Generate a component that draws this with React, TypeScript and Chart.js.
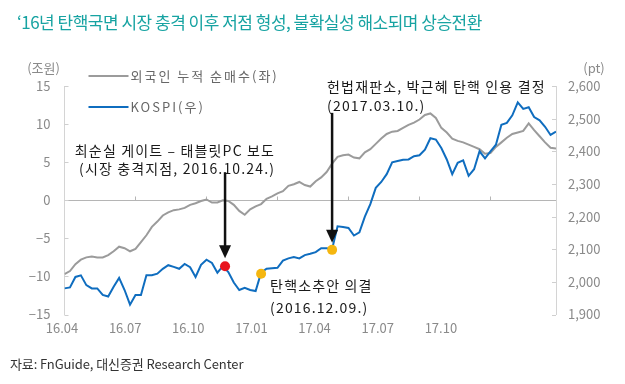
import React, { useEffect, useRef } from "react";
import { Chart, registerables } from "chart.js";

Chart.register(...registerables);

const TITLE = "‘16년 탄핵국면 시장 충격 이후 저점 형성, 불확실성 해소되며 상승전환";
const SOURCE = "자료: FnGuide, 대신증권 Research Center";

const LEFT_UNIT = "(조원)";
const RIGHT_UNIT = "(pt)";
const SERIES_NAMES = ["외국인 누적 순매수(좌)", "KOSPI(우)"];

// x: calendar weeks since 2016-04-01
const xTickLabels = ["16.04", "16.07", "16.10", "17.01", "17.04", "17.07", "17.10"];
const quarterWeeks = [13, 26, 39, 52, 65, 78];

// 외국인 누적 순매수 (조원), weekly
const foreignNet = [
  -9.7, -9.3, -8.4, -7.8, -7.5, -7.4, -7.5, -7.5, -7.2, -6.7,
  -6.1, -6.3, -6.7, -6.4, -5.5, -4.6, -3.5, -2.8, -2.0, -1.6,
  -1.3, -1.2, -1.0, -0.6, -0.4, -0.1, 0.1, -0.3, -0.3, 0.0,
  -0.1, -0.6, -1.4, -1.9, -1.2, -0.8, -0.5, 0.2, 0.5, 0.9,
  1.2, 1.9, 2.1, 2.4, 2.0, 1.8, 2.5, 3.0, 3.7, 4.8,
  5.7, 5.9, 6.0, 5.6, 5.5, 6.3, 6.7, 7.4, 8.1, 8.7,
  9.0, 9.1, 9.5, 9.9, 10.2, 10.6, 11.2, 11.4, 10.8, 9.5,
  8.9, 8.1, 7.8, 7.6, 7.3, 7.0, 6.7, 6.1, 6.2, 7.0,
  7.6, 8.2, 8.7, 8.9, 9.1, 10.1, 9.2, 8.4, 7.6, 6.9,
  6.8,
];

// KOSPI (pt), weekly
const kospi = [
  1980, 1983, 2015, 2020, 1990, 1980, 1980, 1960, 1955, 1985,
  2012, 1975, 1930, 1960, 1960, 2020, 2020, 2025, 2040, 2051,
  2046, 2040, 2055, 2045, 2015, 2052, 2068, 2058, 2028, 2048,
  2030, 1998, 1975, 1982, 1975, 1972, 2028, 2040, 2042, 2043,
  2065, 2072, 2076, 2072, 2082, 2086, 2091, 2103, 2103, 2100,
  2170, 2168, 2165, 2142, 2152, 2200, 2238, 2288, 2306, 2330,
  2366, 2370, 2374, 2375, 2385, 2388, 2405, 2440, 2436, 2410,
  2375, 2330, 2365, 2372, 2325, 2345, 2400, 2378, 2400, 2420,
  2481, 2487, 2510, 2550, 2530, 2535, 2505, 2495, 2475, 2450,
  2460,
];

// events (week index, KOSPI level)
const eventWeeks = [29.4, 36.0, 49.0];
const eventKospi = [2048, 2025, 2098];
const eventColors = ["#e8141e", "#f5b60f", "#f5b60f"];

const eventNotes = [
  { lines: ["최순실 게이트 – 태블릿PC 보도", "(시장 충격지점, 2016.10.24.)"], align: "right", dx: 50, dy: [-116, -98], arrowTop: -94, arrowTip: -8 },
  { lines: ["탄핵소추안 의결", "(2016.12.09.)"], align: "left", dx: 9, dy: [12, 34], arrowTop: null, arrowTip: 0 },
  { lines: ["헌법재판소, 박근혜 탄핵 인용 결정", "(2017.03.10.)"], align: "left", dx: -5, dy: [-163, -144], arrowTop: -137, arrowTip: -7 },
];

const FONT = '"Noto Sans CJK KR", "Noto Sans", sans-serif';
const GRAY = "#9b9b9b";
const BLUE = "#0f6dbf";
const AXIS_TEXT = "#8a8a8a";

const overlayPlugin = {
  id: "overlay",
  beforeDatasetsDraw(chart: any) {
    const { ctx, chartArea } = chart;
    const y = chart.scales.y;
    const y1 = chart.scales.y1;
    const x = chart.scales.x;
    ctx.save();
    ctx.lineWidth = 1;
    ctx.strokeStyle = "#cfcfcf";
    y.ticks.forEach((t: any) => {
      const py = Math.round(y.getPixelForValue(t.value)) + 0.5;
      ctx.beginPath();
      ctx.moveTo(chartArea.left, py);
      ctx.lineTo(chartArea.left + 4, py);
      ctx.stroke();
    });
    y1.ticks.forEach((t: any) => {
      const py = Math.round(y1.getPixelForValue(t.value)) + 0.5;
      ctx.beginPath();
      ctx.moveTo(chartArea.right, py);
      ctx.lineTo(chartArea.right - 4, py);
      ctx.stroke();
    });
    ctx.strokeStyle = "#b5b5b5";
    const zy = Math.round(y.getPixelForValue(0)) + 0.5;
    quarterWeeks.forEach((w) => {
      const px = Math.round(x.getPixelForValue(w)) + 0.5;
      ctx.beginPath();
      ctx.moveTo(px, zy);
      ctx.lineTo(px, zy - 4);
      ctx.stroke();
    });
    ctx.restore();
  },
  afterDraw(chart: any) {
    const { ctx, chartArea } = chart;
    ctx.save();
    // unit labels
    ctx.font = `13px ${FONT}`;
    ctx.fillStyle = AXIS_TEXT;
    ctx.textBaseline = "middle";
    ctx.textAlign = "center";
    ctx.fillText(LEFT_UNIT, chartArea.left - 21, chartArea.top - 18);
    ctx.fillText(RIGHT_UNIT, chartArea.right + 38, chartArea.top - 18);

    // legend
    const legendColors = [GRAY, BLUE];
    const legendDy = [-10, 21];
    ctx.textAlign = "left";
    ctx.fillStyle = "#666";
    (ctx as any).letterSpacing = "2px";
    SERIES_NAMES.forEach((name, i) => {
      const ly = chartArea.top + legendDy[i];
      ctx.strokeStyle = legendColors[i];
      ctx.lineWidth = 2;
      ctx.beginPath();
      ctx.moveTo(chartArea.left + 24, ly);
      ctx.lineTo(chartArea.left + 64, ly);
      ctx.stroke();
      ctx.fillText(name, chartArea.left + 66, ly);
    });

    // annotations
    const meta = chart.getDatasetMeta(0);
    (ctx as any).letterSpacing = "1.15px";
    ctx.font = `14px ${FONT}`;
    ctx.fillStyle = "#1a1a1a";
    eventNotes.forEach((note, i) => {
      const pt = meta.data[i];
      if (!pt) return;
      const px = pt.x;
      const py = pt.y;
      ctx.textAlign = note.align as CanvasTextAlign;
      note.lines.forEach((line, j) => {
        ctx.fillText(line, px + note.dx, py + note.dy[j]);
      });
      if (note.arrowTop !== null) {
        const tip = py + note.arrowTip;
        const headH = 13;
        ctx.strokeStyle = "#111";
        ctx.lineWidth = 2.5;
        ctx.beginPath();
        ctx.moveTo(px, py + (note.arrowTop as number));
        ctx.lineTo(px, tip - headH + 1);
        ctx.stroke();
        ctx.fillStyle = "#111";
        ctx.beginPath();
        ctx.moveTo(px - 6, tip - headH);
        ctx.lineTo(px + 6, tip - headH);
        ctx.lineTo(px, tip);
        ctx.closePath();
        ctx.fill();
        ctx.fillStyle = "#1a1a1a";
      }
    });
    ctx.restore();
  },
};

export default function App() {
  const ref = useRef<HTMLCanvasElement>(null);

  useEffect(() => {
    const canvas = ref.current;
    if (!canvas) return;
    Chart.defaults.font.family = FONT;

    const chart = new Chart(canvas, {
      type: "line",
      data: {
        datasets: [
          {
            label: "events",
            data: eventWeeks.map((w, i) => ({ x: w, y: eventKospi[i] })),
            xAxisID: "x",
            yAxisID: "y1",
            showLine: false,
            pointRadius: 5,
            pointHoverRadius: 5,
            pointBackgroundColor: eventColors,
            pointBorderWidth: 0,
            borderWidth: 0,
            order: 0,
          },
          {
            label: SERIES_NAMES[1],
            data: kospi.map((v, i) => ({ x: i, y: v })),
            xAxisID: "x",
            yAxisID: "y1",
            borderColor: BLUE,
            borderWidth: 2,
            pointRadius: 0,
            tension: 0,
            order: 1,
          },
          {
            label: SERIES_NAMES[0],
            data: foreignNet.map((v, i) => ({ x: i, y: v })),
            xAxisID: "x",
            yAxisID: "y",
            borderColor: GRAY,
            borderWidth: 2,
            pointRadius: 0,
            tension: 0,
            order: 2,
          },
        ],
      },
      options: {
        responsive: false,
        maintainAspectRatio: false,
        animation: false,
        devicePixelRatio: 1,
        layout: { padding: { top: 86, left: 0, right: 0, bottom: 0 } },
        plugins: {
          legend: { display: false },
          title: { display: false },
          tooltip: { enabled: false },
        },
        scales: {
          x: {
            type: "linear",
            display: false,
            min: 0,
            max: kospi.length - 1,
          },
          xl: {
            type: "linear",
            position: "bottom",
            min: 0.04,
            max: 7.823,
            afterBuildTicks: (scale: any) => {
              scale.ticks = xTickLabels.map((_, i) => ({ value: i }));
            },
            afterFit: (scale: any) => {
              scale.height = 69.5;
            },
            grid: { display: false, drawTicks: false },
            border: { display: false },
            ticks: {
              autoSkip: false,
              maxRotation: 0,
              padding: 6,
              color: AXIS_TEXT,
              font: { size: 13, family: FONT },
              callback: (v: any) => xTickLabels[Math.round(Number(v))] ?? "",
            },
          },
          y: {
            type: "linear",
            position: "left",
            min: -15,
            max: 15,
            afterFit: (scale: any) => {
              scale.width = 64.5;
            },
            ticks: {
              stepSize: 5,
              padding: 14,
              color: AXIS_TEXT,
              font: { size: 13, family: FONT },
              callback: (v: any) => String(v).replace("-", "−"),
            },
            grid: {
              drawTicks: false,
              color: (c: any) => (c.tick && c.tick.value === 0 ? "#b5b5b5" : "rgba(0,0,0,0)"),
              lineWidth: 1,
            },
            border: { color: "#d4d4d4", width: 1 },
          },
          y1: {
            type: "linear",
            position: "right",
            min: 1900,
            max: 2600,
            afterFit: (scale: any) => {
              scale.width = 69;
            },
            ticks: {
              stepSize: 100,
              padding: 12,
              color: AXIS_TEXT,
              font: { size: 13, family: FONT },
              callback: (v: any) => Number(v).toLocaleString("en-US"),
            },
            grid: { drawOnChartArea: false, drawTicks: false },
            border: { color: "#d4d4d4", width: 1 },
          },
        },
      },
      plugins: [overlayPlugin],
    } as any);

    return () => chart.destroy();
  }, []);

  return (
    <div
      style={{
        position: "absolute",
        left: 0,
        top: 0,
        width: 625,
        height: 384,
        background: "#fff",
        overflow: "hidden",
      }}
    >
      <canvas
        ref={ref}
        width={625}
        height={384}
        style={{ position: "absolute", left: 0, top: 0, width: 625, height: 384 }}
      />
      <div
        style={{
          position: "absolute",
          left: 17,
          top: 11,
          fontFamily: FONT,
          fontSize: 17,
          lineHeight: "22px",
          letterSpacing: "-0.5px",
          color: "#17a3a2",
          whiteSpace: "nowrap",
        }}
      >
        {TITLE}
      </div>
      <div
        style={{
          position: "absolute",
          left: 10,
          top: 355,
          fontFamily: FONT,
          fontSize: 13,
          lineHeight: "18px",
          letterSpacing: "-0.1px",
          color: "#333",
          whiteSpace: "nowrap",
        }}
      >
        {SOURCE}
      </div>
    </div>
  );
}
